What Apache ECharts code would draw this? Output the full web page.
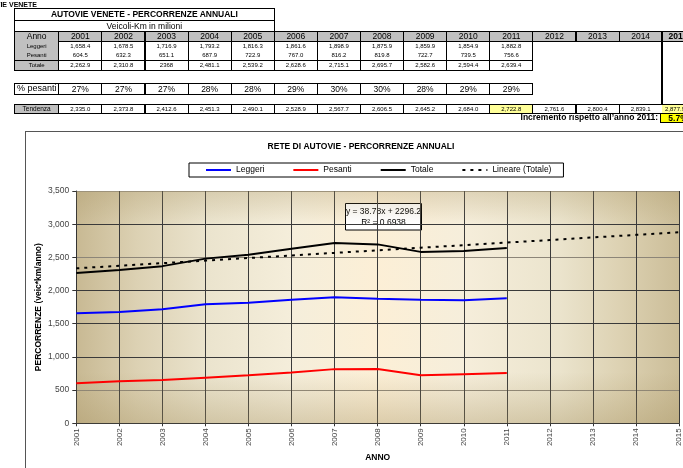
<!DOCTYPE html>
<html><head><meta charset="utf-8">
<style>
html,body{margin:0;padding:0;background:#fff;width:683px;height:468px;overflow:hidden;font-family:Arial,"Liberation Sans",sans-serif;}
#frame{position:absolute;left:25px;top:131px;width:700px;height:400px;border-left:1px solid #555;border-top:1px solid #555;}
#chart{position:absolute;left:0;top:0;width:683px;height:468px;}
#table{position:absolute;left:0;top:0;width:683px;height:131px;overflow:hidden;}
.c{position:absolute;box-sizing:border-box;display:flex;align-items:center;justify-content:center;white-space:nowrap;color:#000;line-height:1;overflow:hidden;}
</style>
<script src="https://cdn.jsdelivr.net/npm/echarts/dist/echarts.min.js"></script>
</head><body>
<div id="frame"></div>
<div id="chart"></div>
<div id="table"></div>
<script>
// ---- data ----
const years = ['2001','2002','2003','2004','2005','2006','2007','2008','2009','2010','2011','2012','2013','2014','2015'];
const leggeri = [1658.4,1678.5,1716.9,1793.2,1816.3,1861.6,1898.9,1875.9,1859.9,1854.9,1882.8];
const pesanti = [604.5,632.3,651.1,687.9,722.9,767.0,816.2,819.8,722.7,739.5,756.6];
const totale = [2262.9,2310.8,2368,2481.1,2539.2,2628.6,2715.1,2695.7,2582.6,2594.4,2639.4];
const pctPesanti = [27,27,27,28,28,29,30,30,28,29,29];
const tendenza = [2335.0,2373.8,2412.6,2451.3,2490.1,2528.9,2567.7,2606.5,2645.2,2684.0,2722.8,2761.6,2800.4,2839.1,2877.9];
const seriesNames = ['Leggeri','Pesanti','Totale','Lineare (Totale)'];
const trendText = ['y = 38.78x + 2296.2','R\u00B2 = 0.6938'];
const incremento = '5.7%';
const sheetTitle = 'AUTOVIE VENETE - PERCORRENZE ANNUALI';
const sheetSub = 'Veicoli-Km in milioni';
const chartTitle = 'RETE DI AUTOVIE - PERCORRENZE ANNUALI';

// ---- table (html) ----
const tbl = document.getElementById('table');
const fmt1 = v => v.toLocaleString('en-US',{minimumFractionDigits:1,maximumFractionDigits:1});
const fmtTot = v => Number.isInteger(v) ? String(v) : fmt1(v);
function cell(x,y,w,h,txt,o){
  o=o||{};
  const d=document.createElement('div');d.className='c';
  d.style.left=x+'px';d.style.top=y+'px';d.style.width=w+'px';d.style.height=h+'px';
  const b=o.b===undefined?'ltrb':o.b; const bc=(o.bw||1)+'px solid #000';
  if(b.includes('l'))d.style.borderLeft=bc;
  if(b.includes('t'))d.style.borderTop=bc;
  if(b.includes('r'))d.style.borderRight=bc;
  if(b.includes('b'))d.style.borderBottom=bc;
  d.style.fontSize=(o.fs||6)+'px';
  if(o.bold)d.style.fontWeight='bold';
  if(o.bg)d.style.background=o.bg;
  if(o.align){d.style.justifyContent=o.align;}
  if(o.pl)d.style.paddingLeft=o.pl+'px';
  if(o.color)d.style.color=o.color;
  d.textContent=txt;tbl.appendChild(d);return d;
}
const XA=14, XL=58.3, CW=43.1, GRAY='#c0c0c0';
const cx=i=>XL+i*CW;
// top-left cut label
cell(-40,0,77,8,'AUTOVIE VENETE',{b:'',fs:7,bold:true,align:'flex-end'});
cell(XA,8,cx(5)-XA+1,13,sheetTitle,{fs:8.5,bold:true});
cell(XA,20,cx(5)-XA+1,12,sheetSub,{fs:8.5});
// Anno row
cell(XA,31,XL-XA+1,11,'Anno',{fs:8.5,bg:GRAY});
for(let i=0;i<14;i++) cell(cx(i),31,CW+1,11,years[i],{fs:8.5,bg:GRAY});
cell(662,31,32,11,years[14],{fs:8.5,bg:GRAY,bold:true,b:'tb'});
// data rows
cell(XA,41,XL-XA+1,10,'Leggeri',{b:'lr',bg:GRAY});
cell(XA,50,XL-XA+1,10.5,'Pesanti',{b:'lrb',bg:GRAY});
cell(XA,59.5,XL-XA+1,11,'Totale',{b:'lrtb',bg:GRAY});
for(let i=0;i<leggeri.length;i++){
  cell(cx(i),41,CW+1,10,fmt1(leggeri[i]),{b:'lr'});
  cell(cx(i),50,CW+1,10.5,fmt1(pesanti[i]),{b:'lrb'});
  cell(cx(i),59.5,CW+1,11,fmtTot(totale[i]),{b:'lrtb'});
}
// % pesanti
cell(XA,83,XL-XA+1,11.5,'% pesanti',{fs:9});
for(let i=0;i<pctPesanti.length;i++) cell(cx(i),83,CW+1,11.5,pctPesanti[i]+'%',{fs:8.5});
// Tendenza
cell(XA,104,XL-XA+1,9.5,'Tendenza',{fs:6.5,bg:GRAY});
for(let i=0;i<14;i++) cell(cx(i),104,CW+1,9.5,fmt1(tendenza[i]),{bg:(i===10?'#ffff99':null)});
cell(662,104,26,9.5,fmt1(tendenza[14]),{bg:'#ffff99',b:'tb'});
// thick column divider
const th=document.createElement('div');th.style.cssText='position:absolute;left:661px;top:31px;width:2px;height:74px;background:#000;';tbl.appendChild(th);
// incremento
cell(300,113,358,9,'Incremento rispetto all\u2019anno 2011:',{b:'',fs:8.5,bold:true,align:'flex-end'});
cell(660,113,35,9.5,incremento,{fs:8.5,bold:true,bg:'#ffff00',b:'ltb',bw:1});

// ---- chart ----
const chart = echarts.init(document.getElementById('chart'),null,{renderer:'canvas'});
const FONT='Arial, "Liberation Sans", sans-serif';
const bgGrad={type:'linear',x:0,y:0,x2:1,y2:0,colorStops:[
  {offset:0,color:'#c8b993'},{offset:0.1,color:'#dcd1b3'},{offset:0.22,color:'#ebe4ce'},
  {offset:0.36,color:'#f5eedb'},{offset:0.5,color:'#fcefd6'},{offset:0.64,color:'#f6eedb'},
  {offset:0.8,color:'#ebe4cd'},{offset:0.9,color:'#ddd2b3'},{offset:1,color:'#cbbd98'}]};
const vShade={type:'linear',x:0,y:0,x2:0,y2:1,colorStops:[
  {offset:0,color:'rgba(165,145,95,0.28)'},{offset:0.14,color:'rgba(165,145,95,0)'},
  {offset:0.78,color:'rgba(165,145,95,0)'},{offset:1,color:'rgba(165,145,95,0.36)'}]};
const lineColors=['#0000ff','#ff0000','#000000','#000000'];
chart.setOption({
  backgroundColor:'transparent',
  animation:false,
  textStyle:{fontFamily:FONT},
  grid:{left:76.3,top:191,width:607.6,height:232.3,show:true,backgroundColor:bgGrad,borderWidth:0},
  legend:{
    left:189,top:163,padding:[2.5,12,2.5,16],itemGap:28,itemWidth:25,itemHeight:10,
    backgroundColor:'#fff',borderColor:'#000',borderWidth:1,borderRadius:0,
    itemStyle:{opacity:0},
    textStyle:{fontSize:8.5,color:'#000',fontFamily:FONT},
    data:seriesNames
  },
  xAxis:{
    type:'category',data:years,boundaryGap:false,
    axisLine:{lineStyle:{color:'#333',width:1}},
    axisTick:{show:true,length:3,lineStyle:{color:'#333'}},
    axisLabel:{rotate:90,fontSize:8,color:'#444',margin:5,fontFamily:FONT},
    splitLine:{show:true,lineStyle:{color:'#3a3a3a',width:1}},
    name:'ANNO',nameLocation:'middle',nameGap:30,nameMoveOverlap:false,
    nameTextStyle:{fontWeight:'bold',fontSize:8.5,color:'#000',fontFamily:FONT}
  },
  yAxis:{
    type:'value',min:0,max:3500,interval:500,
    axisLine:{show:true,lineStyle:{color:'#333',width:1}},
    axisTick:{show:true,length:4,lineStyle:{color:'#333'}},
    axisLabel:{fontSize:8.5,color:'#444',margin:7,fontFamily:FONT},
    splitLine:{show:true,lineStyle:{color:['#333','#8c8578','#3a3a3a','#3a3a3a','#3a3a3a','#8c8578','#3a3a3a','#9a9385'],width:1}},
    name:'PERCORRENZE (veic*km/anno)',nameLocation:'middle',nameRotate:90,nameGap:33,nameMoveOverlap:false,
    nameTextStyle:{fontWeight:'bold',fontSize:8.5,color:'#000',fontFamily:FONT}
  },
  series:[
    {name:seriesNames[0],type:'line',data:leggeri,symbol:'none',color:lineColors[0],
     lineStyle:{color:lineColors[0],width:2},
     markArea:{silent:true,itemStyle:{color:vShade},data:[[{xAxis:years[0],yAxis:0},{xAxis:years[years.length-1],yAxis:3500}]]}},
    {name:seriesNames[1],type:'line',data:pesanti,symbol:'none',color:lineColors[1],lineStyle:{color:lineColors[1],width:2}},
    {name:seriesNames[2],type:'line',data:totale,symbol:'none',color:lineColors[2],lineStyle:{color:lineColors[2],width:2}},
    {name:seriesNames[3],type:'line',data:tendenza,symbol:'none',color:lineColors[3],lineStyle:{color:lineColors[3],width:2,type:[3,5]}}
  ],
  graphic:[
    {type:'text',x:361,y:146.5,z:10,style:{text:chartTitle,fill:'#000',font:'bold 8.5px '+FONT,align:'center',verticalAlign:'middle',textAlign:'center',textVerticalAlign:'middle'}},
    {type:'group',x:345,y:203,z:10,children:[
      {type:'rect',shape:{x:0.5,y:0.5,width:76,height:26.5},style:{fill:'#fff',stroke:'#000',lineWidth:1}},
      {type:'text',x:38.5,y:8.5,style:{text:trendText[0],fill:'#000',font:'8.5px '+FONT,align:'center',verticalAlign:'middle',textAlign:'center',textVerticalAlign:'middle'}},
      {type:'text',x:38.5,y:20,style:{text:trendText[1],fill:'#000',font:'8.5px '+FONT,align:'center',verticalAlign:'middle',textAlign:'center',textVerticalAlign:'middle'}}
    ]}
  ]
});
</script>
</body></html>
